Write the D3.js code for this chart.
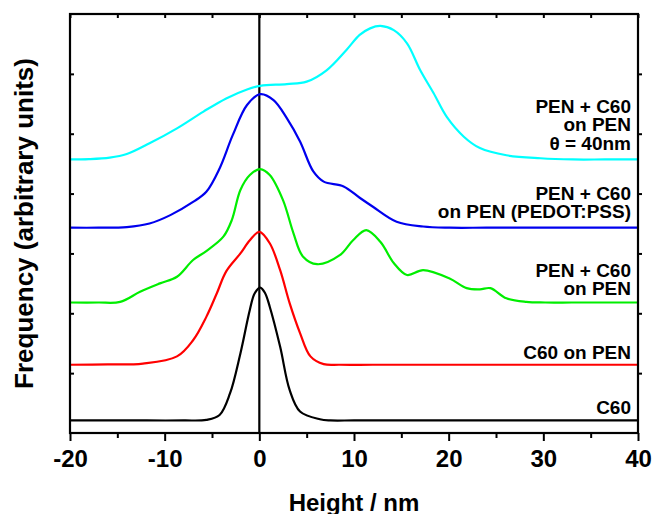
<!doctype html>
<html>
<head>
<meta charset="utf-8">
<style>
  body { margin: 0; background: #fff; }
  svg text { font-family: "Liberation Sans", Arial, sans-serif; font-weight: bold; fill: #000; }
</style>
<script src="https://d3js.org/d3.v7.min.js"></script>
</head>
<body>
<script>
// heights (nm) and frequencies (arb. units, already offset)
var c60X = [-20, -14, -8, -5.6, -4.2, -3.1, -2.0, -1.0, -0.5, 0.1, 0.6, 1.1, 2.2, 3.2, 4.3, 6.4, 7.5, 10, 16, 25, 33, 40];
var c60Y = [0.21, 0.21, 0.21, 0.22, 0.30, 0.66, 1.33, 2.06, 2.33, 2.43, 2.34, 2.11, 1.44, 0.72, 0.36, 0.23, 0.21, 0.21, 0.21, 0.21, 0.21, 0.21];

var c60PenX = [-20, -16, -12.3, -8.7, -7.0, -5.6, -4.5, -3.5, -2.0, -1.0, 0.0, 1.1, 2.2, 3.2, 4.3, 5.4, 6.8, 8.5, 12, 20, 30, 40];
var c60PenY = [1.14, 1.145, 1.16, 1.28, 1.55, 1.94, 2.33, 2.70, 3.00, 3.22, 3.36, 3.17, 2.72, 2.17, 1.67, 1.28, 1.15, 1.14, 1.14, 1.14, 1.14, 1.14];

var mixPenX = [-20, -17, -14.7, -12.6, -10.5, -8.7, -7.0, -5.6, -3.8, -2.9, -2.0, -1.0, 0.1, 1.1, 2.5, 3.6, 4.6, 6.1, 8.5, 9.9, 11.3, 12.8, 14.2, 15.6, 17.3, 20.1, 21.9, 23.3, 24.4, 26.1, 28.2, 30.2, 33, 36.5, 40];
var mixPenY = [2.18, 2.18, 2.19, 2.36, 2.50, 2.61, 2.89, 3.04, 3.28, 3.56, 4.06, 4.31, 4.41, 4.31, 3.89, 3.34, 2.95, 2.82, 2.97, 3.22, 3.39, 3.19, 2.84, 2.64, 2.72, 2.58, 2.42, 2.40, 2.42, 2.25, 2.19, 2.18, 2.18, 2.18, 2.18];

var mixPedotX = [-20, -17, -14.0, -11.6, -9.4, -7.0, -5.6, -4.2, -2.8, -1.3, 0.1, 1.5, 2.9, 4.3, 5.7, 6.8, 8.9, 10.6, 12.0, 14.5, 17.3, 20.1, 24, 30, 40];
var mixPedotY = [3.43, 3.43, 3.44, 3.50, 3.64, 3.86, 4.03, 4.42, 4.98, 5.48, 5.66, 5.56, 5.26, 4.87, 4.37, 4.20, 4.12, 3.93, 3.78, 3.53, 3.45, 3.43, 3.43, 3.43, 3.43];

var mix40X = [-20, -18, -15.8, -14.0, -11.6, -8.7, -5.9, -3.5, -1.3, 0.1, 2.9, 5.0, 7.1, 9.2, 10.6, 11.7, 12.8, 14.2, 15.6, 17.0, 18.4, 19.8, 21.6, 23.3, 26.1, 29.7, 33.1, 36.5, 40];
var mix40Y = [4.57, 4.575, 4.60, 4.66, 4.84, 5.09, 5.37, 5.59, 5.74, 5.80, 5.83, 5.87, 6.06, 6.40, 6.65, 6.76, 6.80, 6.73, 6.51, 6.06, 5.68, 5.28, 4.95, 4.76, 4.64, 4.59, 4.57, 4.57, 4.57];

var seriesLabels = [
    ["C60"],
    ["C60 on PEN"],
    ["PEN + C60", "on PEN"],
    ["PEN + C60", "on PEN (PEDOT:PSS)"],
    ["PEN + C60", "on PEN", "\u03b8 = 40nm"]
];
var xMajor = [-20, -10, 0, 10, 20, 30, 40];
var xMinor = [-15, -5, 5, 15, 25, 35];
var yTicks = [1, 2, 3, 4, 5, 6];

var width = 652, height = 514;
var plotL = 70, plotR = 638, plotT = 14, plotB = 433;

var svg = d3.select("body").append("svg")
    .attr("width", width)
    .attr("height", height);

var x = d3.scaleLinear().domain([-20, 40]).range([plotL, plotR]);
var y = d3.scaleLinear().domain([0, 7]).range([plotB, plotT]);

// zero line
svg.append("line")
    .attr("x1", x(0)).attr("x2", x(0))
    .attr("y1", y(0)).attr("y2", y(7))
    .attr("stroke", "#000").attr("stroke-width", 2.2);

var series = [
    { xs: c60X, ys: c60Y, color: "#000000" },
    { xs: c60PenX, ys: c60PenY, color: "#ff0000" },
    { xs: mixPenX, ys: mixPenY, color: "#00ee00" },
    { xs: mixPedotX, ys: mixPedotY, color: "#0000ee" },
    { xs: mix40X, ys: mix40Y, color: "#00ffff" }
];

var line = d3.line()
    .x(function (d) { return x(d[0]); })
    .y(function (d) { return y(d[1]); })
    .curve(d3.curveCatmullRom.alpha(0.5));

series.forEach(function (s) {
    svg.append("path")
        .datum(d3.zip(s.xs, s.ys))
        .attr("fill", "none")
        .attr("stroke", s.color)
        .attr("stroke-width", 2.2)
        .attr("d", line);
});

// axes
var xAxis = svg.append("g")
    .attr("transform", "translate(0," + plotB + ")")
    .call(d3.axisBottom(x).tickValues(xMajor).tickSize(8).tickPadding(0)
        .tickFormat(function (d) { return String(d); }));
xAxis.selectAll("text")
    .attr("y", 34).attr("dy", null)
    .style("font-size", "24px");

svg.append("g")
    .attr("transform", "translate(0," + plotB + ")")
    .call(d3.axisBottom(x).tickValues(xMinor).tickSize(5).tickFormat(""));

svg.append("g")
    .attr("transform", "translate(0," + plotT + ")")
    .call(d3.axisTop(x).tickValues(xMajor.concat(xMinor)).tickSize(-4).tickFormat(""));

svg.append("g")
    .attr("transform", "translate(" + plotL + ",0)")
    .call(d3.axisLeft(y).tickValues(yTicks).tickSize(-4).tickFormat(""));

svg.append("g")
    .attr("transform", "translate(" + plotR + ",0)")
    .call(d3.axisRight(y).tickValues(yTicks).tickSize(4).tickFormat(""));

svg.selectAll(".domain").remove();
svg.selectAll(".tick line").attr("stroke", "#000").attr("stroke-width", 2);

svg.append("rect")
    .attr("x", plotL).attr("y", plotT)
    .attr("width", plotR - plotL).attr("height", plotB - plotT)
    .attr("fill", "none")
    .attr("stroke", "#000").attr("stroke-width", 2.2);

// series labels (baseline of first line)
var labelTop = [414, 359, 277, 200, 113];
seriesLabels.forEach(function (lines, i) {
    var t = svg.append("text")
        .attr("text-anchor", "end")
        .style("font-size", "19px");
    lines.forEach(function (l, j) {
        t.append("tspan")
            .attr("x", 631)
            .attr("y", labelTop[i] + j * 18.3)
            .text(l);
    });
});

// axis titles
svg.append("text")
    .attr("x", (plotL + plotR) / 2)
    .attr("y", 511)
    .attr("text-anchor", "middle")
    .style("font-size", "24px")
    .text("Height / nm");

svg.append("text")
    .attr("transform", "translate(33," + (plotT + plotB) / 2 + ") rotate(-90)")
    .attr("text-anchor", "middle")
    .style("font-size", "26px")
    .text("Frequency (arbitrary units)");
</script>
</body>
</html>
